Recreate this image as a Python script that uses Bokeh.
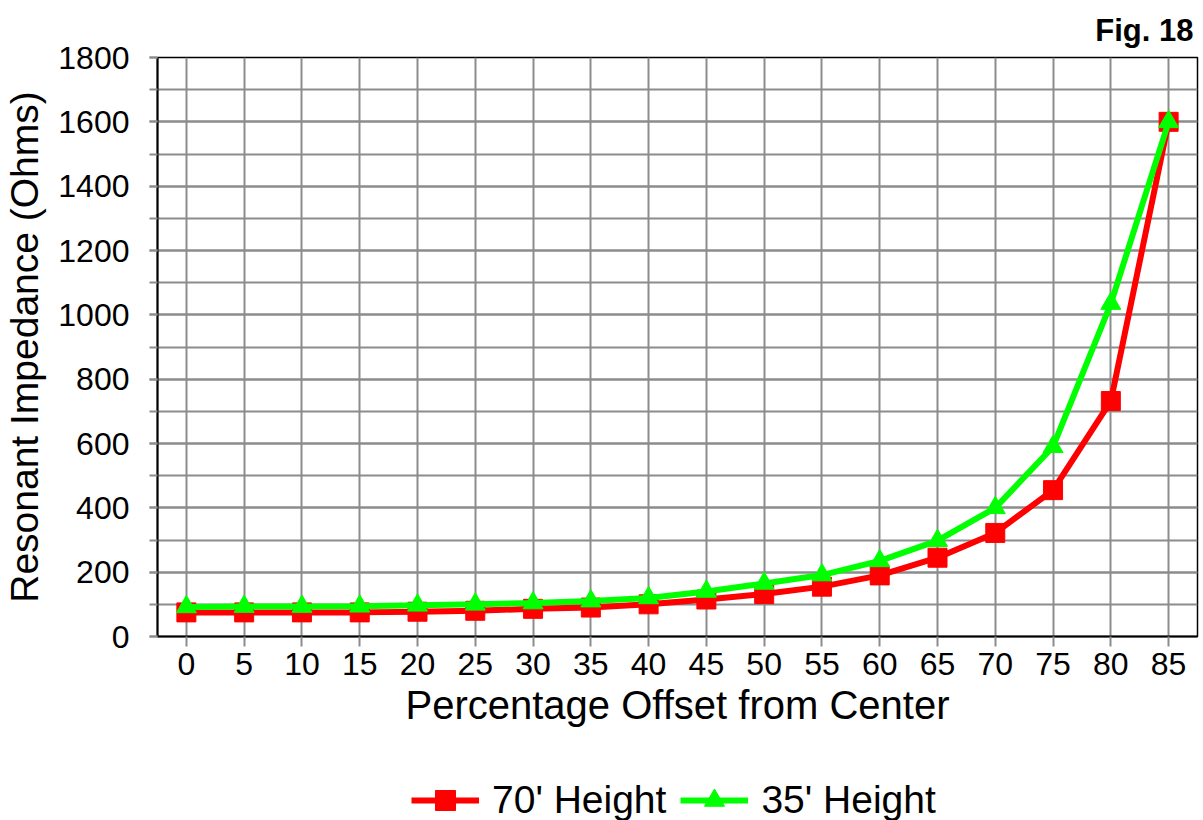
from bokeh.plotting import figure
from bokeh.layouts import column
from bokeh.models import FixedTicker, Legend, LegendItem, Title, Range1d
from bokeh.embed import file_html
from bokeh.resources import INLINE

offsets = [0, 5, 10, 15, 20, 25, 30, 35, 40, 45, 50, 55, 60, 65, 70, 75, 80, 85]
h70 = [75, 75, 75, 75, 77, 80, 86, 90, 100, 115, 132, 155, 190, 245, 322, 455, 732, 1600]
h35 = [92, 93, 93, 94, 97, 100, 104, 110, 120, 140, 165, 191, 235, 298, 400, 590, 1035, 1600]
series_names = ["70' Height", "35' Height"]
y_ticks = [0, 200, 400, 600, 800, 1000, 1200, 1400, 1600, 1800]
y_minor = list(range(0, 1801, 100))

FONT = "Liberation Sans"
GRID = "#8c8c8c"
RED = "#ff0000"
GREEN = "#00ff00"

p = figure(width=1203, height=744,
           x_range=Range1d(-2.5, 87.5), y_range=Range1d(0, 1800),
           output_backend="svg", toolbar_location=None,
           min_border_left=157, min_border_right=6,
           min_border_top=57, min_border_bottom=108,
           background_fill_color="white", border_fill_color="white")

p.outline_line_color = "black"
p.outline_line_width = 1.5

# axes
p.xaxis.ticker = FixedTicker(ticks=offsets, minor_ticks=[])
p.yaxis.ticker = FixedTicker(ticks=y_ticks, minor_ticks=y_minor)
for ax in (p.xaxis[0], p.yaxis[0]):
    ax.axis_line_color = "black"
    ax.axis_line_width = 2
    ax.major_tick_line_color = GRID
    ax.minor_tick_line_color = GRID
    ax.major_tick_line_width = 2
    ax.minor_tick_line_width = 2
    ax.major_tick_in = 0
    ax.minor_tick_in = 0
    ax.major_label_text_font = FONT
    ax.major_label_text_font_size = "32px"
    ax.major_label_text_color = "black"
    ax.axis_label_text_font = FONT
    ax.axis_label_text_font_style = "normal"
    ax.axis_label_text_color = "black"

p.xaxis.major_tick_out = 10
p.xaxis.major_label_standoff = 6
p.xaxis.axis_label = "Percentage Offset from Center"
p.xaxis.axis_label_text_font_size = "40px"
p.xaxis.axis_label_standoff = 5

p.yaxis.major_tick_out = 8
p.yaxis.minor_tick_out = 8
p.yaxis.major_label_standoff = 20
p.yaxis.axis_label = "Resonant Impedance (Ohms)"
p.yaxis.axis_label_text_font_size = "39px"
p.yaxis.axis_label_standoff = 9

# grid
p.xgrid.grid_line_color = GRID
p.xgrid.grid_line_width = 2
p.ygrid.grid_line_color = GRID
p.ygrid.grid_line_width = 2
p.ygrid.minor_grid_line_color = GRID
p.ygrid.minor_grid_line_width = 2

# series
p.line(offsets, h70, line_color=RED, line_width=6)
p.scatter(offsets, h70, marker="square", size=19, fill_color=RED, line_color=RED)
p.line(offsets, h35, line_color=GREEN, line_width=6)
p.scatter(offsets, h35, marker="triangle", size=20, fill_color=GREEN, line_color=GREEN)

p.add_layout(Title(text="Fig. 18", align="right",
                   text_font=FONT, text_font_size="31px", text_font_style="bold",
                   text_color="black", offset=4, standoff=19), "above")

# legend strip below the chart (its frame is aligned with the chart frame)
lf = figure(width=1203, height=76, output_backend="svg", toolbar_location=None,
            x_range=Range1d(1000, 1001), y_range=Range1d(0, 1),
            min_border_left=157, min_border_right=6, min_border_top=0, min_border_bottom=0,
            background_fill_color="white", border_fill_color="white")
lf.axis.visible = False
lf.grid.visible = False
lf.outline_line_color = None
l1 = lf.line(offsets, h70, line_color=RED, line_width=6)
m1 = lf.scatter(offsets, h70, marker="square", size=19, fill_color=RED, line_color=RED)
l2 = lf.line(offsets, h35, line_color=GREEN, line_width=6)
m2 = lf.scatter(offsets, h35, marker="triangle", size=20, fill_color=GREEN, line_color=GREEN)

legend = Legend(items=[LegendItem(label=series_names[0], renderers=[l1, m1]),
                       LegendItem(label=series_names[1], renderers=[l2, m2])],
                orientation="horizontal", location=(254, -5),
                glyph_width=68, glyph_height=50, label_height=50,
                label_standoff=13, spacing=14, padding=0, margin=0,
                label_text_font=FONT, label_text_font_size="39px",
                label_text_color="black",
                border_line_color=None, background_fill_alpha=0)
lf.add_layout(legend)

layout = column(p, lf, spacing=0)
open("out.html", "w").write(file_html(layout, INLINE))
